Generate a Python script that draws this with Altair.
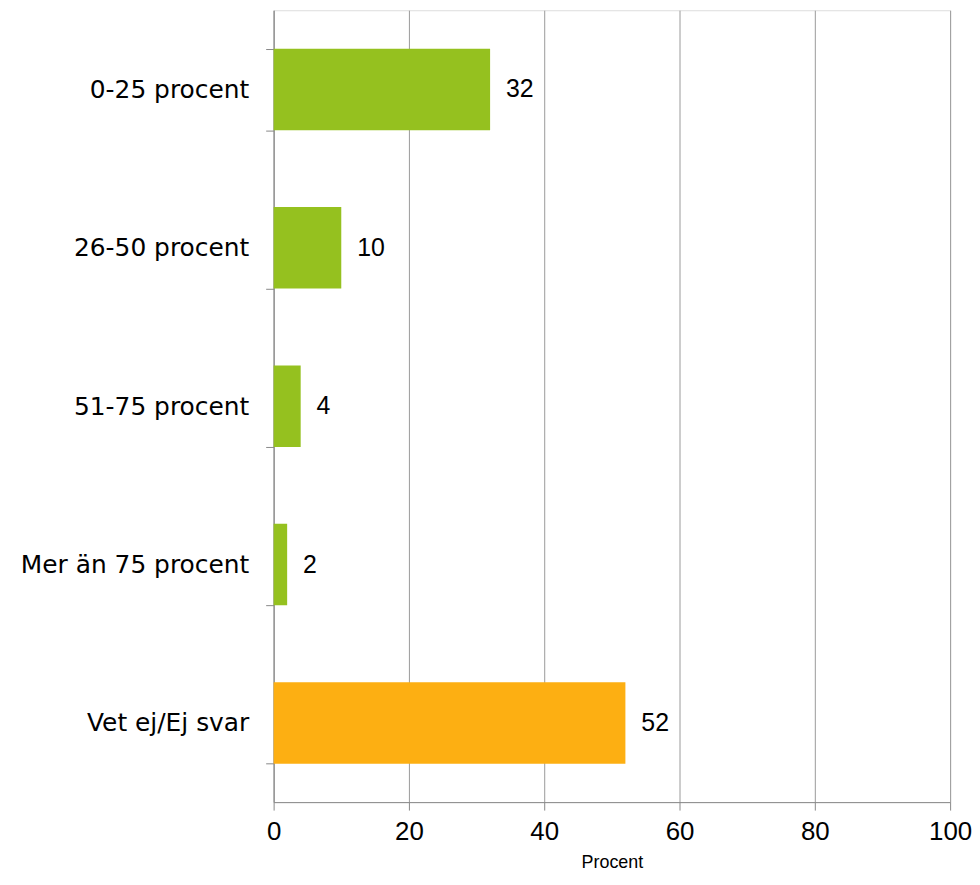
import altair as alt
import pandas as pd

categories = ["0-25 procent", "26-50 procent", "51-75 procent", "Mer än 75 procent", "Vet ej/Ej svar"]
values = [32, 10, 4, 2, 52]
colors = ["#95C11F", "#95C11F", "#95C11F", "#95C11F", "#FDAF12"]

df = pd.DataFrame({"kategori": categories, "procent": values, "farg": colors})

FONT = "Liberation Sans"

y_enc = alt.Y(
    "kategori:N",
    sort=None,
    title=None,
    scale=alt.Scale(paddingInner=0.485, paddingOuter=0.2425),
    axis=alt.Axis(
        title=None,
        tickBand="extent",
        labelFontSize=25,
        labelFont="DejaVu Sans",
        labelColor="black",
        labelPadding=17,
        labelLimit=400,
        tickSize=8,
        tickColor="#888888",
        domainColor="#888888",
        grid=False,
        minExtent=267,
        maxExtent=267,
    ),
)

x_enc = alt.X(
    "procent:Q",
    scale=alt.Scale(domain=[0, 100], nice=False),
    axis=alt.Axis(
        title="Procent",
        titleFont=FONT,
        titleFontSize=18,
        titleFontWeight="normal",
        titleColor="black",
        titlePadding=9,
        values=[0, 20, 40, 60, 80, 100],
        labelFontSize=26,
        labelFont=FONT,
        labelColor="black",
        labelPadding=9,
        tickSize=8,
        tickColor="#888888",
        domainColor="#888888",
        gridColor="#999999",
        gridWidth=1,
        labelFlush=False,
    ),
)

bars = alt.Chart(df).mark_bar().encode(
    x=x_enc,
    y=y_enc,
    color=alt.Color("farg:N", scale=None, legend=None),
)

labels = alt.Chart(df).mark_text(
    align="left", baseline="middle", dx=16, fontSize=25, font=FONT, color="black"
).encode(
    x=alt.X("procent:Q", title="Procent"),
    y=alt.Y("kategori:N", sort=None, title=None),
    text="procent:Q",
)

chart = (
    alt.layer(bars, labels)
    .properties(width=680, height=796, padding={"left": 0, "top": -12, "right": 0, "bottom": 0})
    .configure_view(stroke="#999999", strokeWidth=1)
    .configure(background="white")
)

chart.save("out.html", embed_options={"renderer": "svg", "actions": False})
